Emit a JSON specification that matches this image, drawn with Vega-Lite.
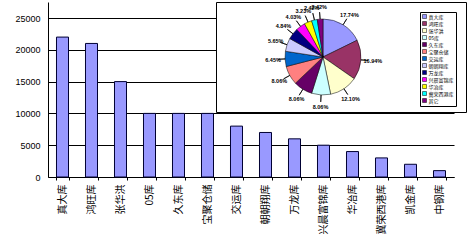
{
  "$schema": "https://vega.github.io/schema/vega-lite/v6.json",
  "background": "white",
  "padding": {"left": 14, "top": 1, "right": 0, "bottom": 0},
  "spacing": -240,
  "align": "none",
  "resolve": {"legend": {"color": "independent"}, "scale": {"color": "independent"}},
  "config": {
    "font": "Liberation Sans",
    "view": {"stroke": "#000", "strokeWidth": 1}
  },
  "datasets": {
    "bars": [
      {"name": "真大库", "value": 22000},
      {"name": "鸿旺库", "value": 21000},
      {"name": "张华洪", "value": 15000},
      {"name": "05库", "value": 10000},
      {"name": "久东库", "value": 10000},
      {"name": "宝聚仓储", "value": 10000},
      {"name": "交运库", "value": 8000},
      {"name": "朝朝翔库", "value": 7000},
      {"name": "万龙库", "value": 6000},
      {"name": "兴晨富锦库", "value": 5000},
      {"name": "华冶库", "value": 4000},
      {"name": "冀荣西港库", "value": 3000},
      {"name": "凯金库", "value": 2000},
      {"name": "中钢库", "value": 1000}
    ],
    "pie": [
      {"k": 1, "name": "真大库", "value": 22000, "pct": "17.74%"},
      {"k": 2, "name": "鸿旺库", "value": 21000, "pct": "16.94%"},
      {"k": 3, "name": "张华洪", "value": 15000, "pct": "12.10%"},
      {"k": 4, "name": "05库", "value": 10000, "pct": "8.06%"},
      {"k": 5, "name": "久东库", "value": 10000, "pct": "8.06%"},
      {"k": 6, "name": "宝聚仓储", "value": 10000, "pct": "8.06%"},
      {"k": 7, "name": "交运库", "value": 8000, "pct": "6.45%"},
      {"k": 8, "name": "朝朝翔库", "value": 7000, "pct": "5.65%"},
      {"k": 9, "name": "万龙库", "value": 6000, "pct": "4.84%"},
      {"k": 10, "name": "兴晨富锦库", "value": 5000, "pct": "4.03%"},
      {"k": 11, "name": "华冶库", "value": 4000, "pct": "3.23%"},
      {"k": 12, "name": "冀荣西港库", "value": 3000, "pct": "2.42%"},
      {"k": 13, "name": "其它", "value": 3000, "pct": "2.42%"}
    ]
  },
  "hconcat": [
    {
      "width": 406,
      "height": 175,
      "view": {"fill": "white", "stroke": "transparent"},
      "data": {"name": "bars"},
      "mark": {"type": "bar", "fill": "#9999FF", "stroke": "#000033", "strokeWidth": 1},
      "encoding": {
        "x": {
          "field": "name", "type": "nominal", "sort": null,
          "scale": {"paddingInner": 0.586, "paddingOuter": 0.293},
          "axis": {"title": null, "labelAngle": -90, "labelFont": "Noto Sans CJK SC", "labelFontSize": 10, "labelColor": "#000", "labelPadding": 4, "tickBand": "extent", "tickSize": 3, "tickColor": "#000", "domainColor": "#000"}
        },
        "y": {
          "field": "value", "type": "quantitative",
          "scale": {"domain": [0, 27516], "nice": false},
          "axis": {"title": null, "values": [0, 5000, 10000, 15000, 20000, 25000], "format": "d", "ticks": false, "labelPadding": 8, "labelFontSize": 9, "labelColor": "#000", "gridColor": "#000", "gridOpacity": 1, "domainColor": "#000"}
        }
      }
    },
    {
      "width": 250,
      "height": 110,
      "view": {"fill": "white", "stroke": "#000"},
      "data": {"name": "pie"},
      "encoding": {
        "theta": {"field": "value", "type": "quantitative", "stack": true},
        "order": {"field": "k", "type": "quantitative"},
        "color": {
          "field": "name", "type": "nominal",
          "scale": {
            "domain": ["真大库", "鸿旺库", "张华洪", "05库", "久东库", "宝聚仓储", "交运库", "朝朝翔库", "万龙库", "兴晨富锦库", "华冶库", "冀荣西港库", "其它"],
            "range": ["#9999FF", "#993366", "#FFFFCC", "#CCFFFF", "#660066", "#FF8080", "#0066CC", "#CCCCFF", "#000080", "#FF00FF", "#FFFF00", "#00FFFF", "#800080"]
          },
          "legend": {"title": null, "orient": "top-right", "offset": 10, "labelFont": "Noto Sans CJK SC", "labelFontSize": 5, "labelColor": "#000", "symbolType": "square", "symbolSize": 16, "symbolStrokeColor": "#000", "symbolStrokeWidth": 0.5, "rowPadding": 0, "padding": 2, "strokeColor": "#000", "fillColor": "white", "labelOffset": 1.5}
        }
      },
      "layer": [
        {"mark": {"type": "arc", "outerRadius": 38, "stroke": "#000", "strokeWidth": 0.5, "xOffset": -18}},
        {"mark": {"type": "arc", "innerRadius": 38, "outerRadius": 45, "padAngle": 3, "fillOpacity": 0, "stroke": "#000", "strokeWidth": 0.7, "xOffset": -18}},
        {"mark": {"type": "text", "radius": 50, "fontSize": 5.5, "fontWeight": "bold", "xOffset": -18}, "encoding": {"text": {"field": "pct"}, "color": {"value": "#000"}}}
      ]
    }
  ]
}
